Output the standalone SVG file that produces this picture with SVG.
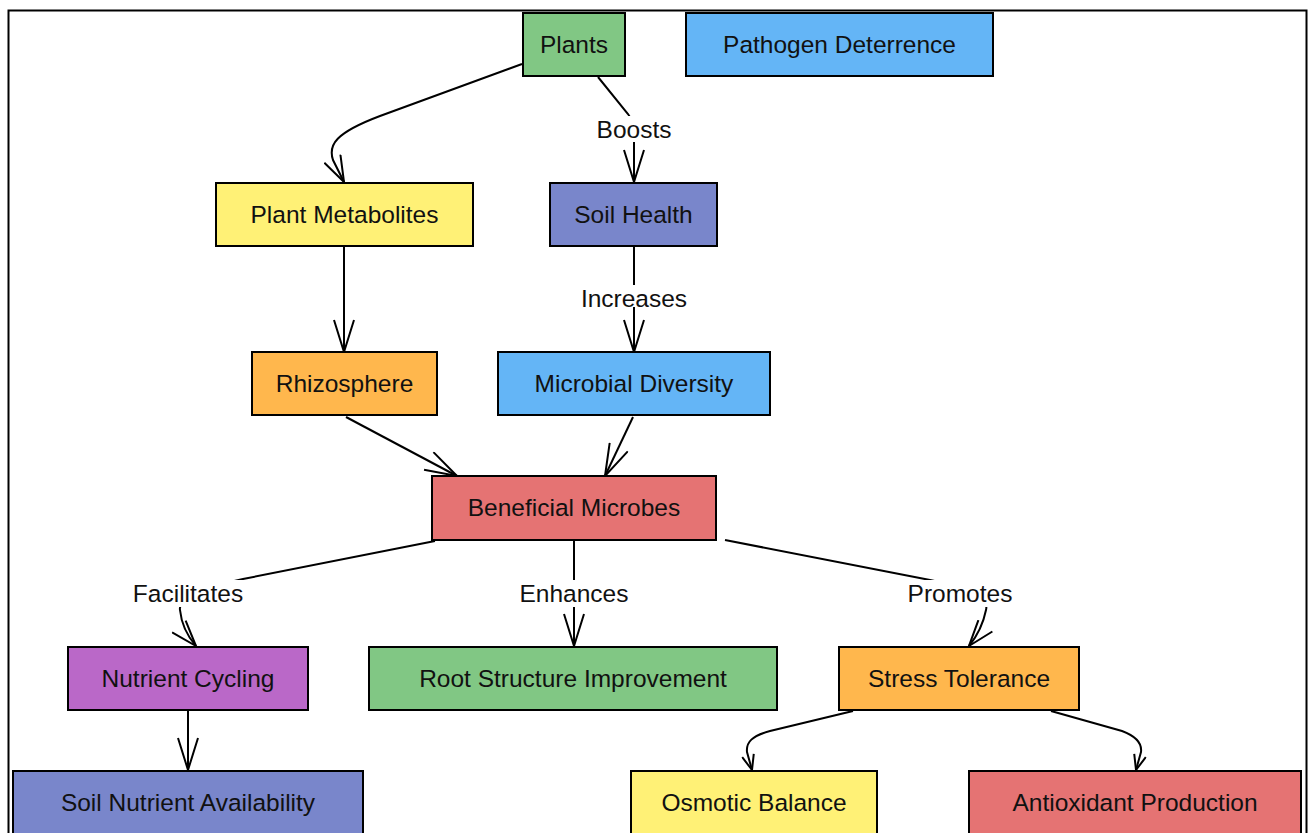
<svg xmlns="http://www.w3.org/2000/svg" width="1309" height="833" viewBox="0 0 1309 833">
<style>
.node rect{stroke:#000;stroke-width:2}
text{font-family:"Liberation Sans",Arial,sans-serif;font-size:24.5px;fill:#111;text-anchor:middle}
.edge{fill:none;stroke:#000;stroke-width:2;marker-end:url(#arr)}
.edge.mid{marker-end:url(#arrM)}
.edge.sm{marker-end:url(#arrS)}
.lblbg{fill:#fff;stroke:none}
</style>
<defs>
<marker id="arr" markerUnits="userSpaceOnUse" viewBox="0 0 34 22" markerWidth="34" markerHeight="22" refX="33" refY="11" orient="auto">
<path d="M1,1 L33,11 L1,21" fill="none" stroke="#000" stroke-width="2"/>
</marker>
<marker id="arrM" markerUnits="userSpaceOnUse" viewBox="0 0 28 20" markerWidth="28" markerHeight="20" refX="27" refY="10" orient="auto">
<path d="M1,1 L27,10 L1,19" fill="none" stroke="#000" stroke-width="2"/>
</marker>
<marker id="arrS" markerUnits="userSpaceOnUse" viewBox="0 0 17 14" markerWidth="17" markerHeight="14" refX="16" refY="7" orient="auto">
<path d="M1,1 L16,7 L1,13" fill="none" stroke="#000" stroke-width="2"/>
</marker>
</defs>
<rect width="1309" height="833" fill="#fff"/>
<rect x="8.5" y="10.5" width="1298" height="830" fill="none" stroke="#000" stroke-width="2"/>
<g id="connectors">
<path class="edge mid" d="M522,64 L380,116 C335,133 328,145 333,160 L344,182"/>
<path class="edge" d="M598,77 L628,114 Q634,122 634,132 L634,182"/>
<path class="edge" d="M344,247 L344,352"/>
<path class="edge" d="M634,247 L634,352"/>
<path class="edge" d="M346,417 L457,476"/>
<path class="edge" d="M633,417 L605,476"/>
<path class="edge mid" d="M435,541 L243,579 C200,588 178,598 180,610 Q182,630 196,646"/>
<path class="edge" d="M574,541 L574,646"/>
<path class="edge mid" d="M725,540 L930,580 C960,586 990,595 986,610 Q982,630 969,646"/>
<path class="edge" d="M188,711 L188,770"/>
<path class="edge sm" d="M853,711 L770,731 C752,736 746,742 747,752 L752,770"/>
<path class="edge sm" d="M1051,711 L1122,731 C1138,737 1142,744 1141,752 L1136,770"/>
<rect class="lblbg" x="596" y="116" width="76" height="26"/>
<text x="634" y="137.5">Boosts</text>
<rect class="lblbg" x="580" y="285" width="108" height="22"/>
<text x="634" y="306.5">Increases</text>
<rect class="lblbg" x="132" y="580" width="112" height="27"/>
<text x="188" y="601.5">Facilitates</text>
<rect class="lblbg" x="519" y="580" width="110" height="27"/>
<text x="574" y="601.5">Enhances</text>
<rect class="lblbg" x="906" y="580" width="108" height="27"/>
<text x="960" y="601.5">Promotes</text>
</g>
<g id="plants" class="node"><rect x="523" y="13" width="102" height="63" fill="#81c784"/><text x="574" y="53">Plants</text></g>
<g id="pathogen-deterrence" class="node"><rect x="686" y="13" width="307" height="63" fill="#64b5f6"/><text x="839.5" y="53">Pathogen Deterrence</text></g>
<g id="plant-metabolites" class="node"><rect x="216" y="183" width="257" height="63" fill="#fff176"/><text x="344.5" y="223">Plant Metabolites</text></g>
<g id="soil-health" class="node"><rect x="550" y="183" width="167" height="63" fill="#7986cb"/><text x="633.5" y="223">Soil Health</text></g>
<g id="rhizosphere" class="node"><rect x="252" y="352" width="185" height="63" fill="#ffb74d"/><text x="344.5" y="392">Rhizosphere</text></g>
<g id="microbial-diversity" class="node"><rect x="498" y="352" width="272" height="63" fill="#64b5f6"/><text x="634" y="392">Microbial Diversity</text></g>
<g id="beneficial-microbes" class="node"><rect x="432" y="476" width="284" height="64" fill="#e57373"/><text x="574" y="516">Beneficial Microbes</text></g>
<g id="nutrient-cycling" class="node"><rect x="68" y="647" width="240" height="63" fill="#ba68c8"/><text x="188" y="687">Nutrient Cycling</text></g>
<g id="root-structure-improvement" class="node"><rect x="369" y="647" width="408" height="63" fill="#81c784"/><text x="573" y="687">Root Structure Improvement</text></g>
<g id="stress-tolerance" class="node"><rect x="839" y="647" width="240" height="63" fill="#ffb74d"/><text x="959" y="687">Stress Tolerance</text></g>
<g id="soil-nutrient-availability" class="node"><rect x="13" y="771" width="350" height="70" fill="#7986cb"/><text x="188" y="811">Soil Nutrient Availability</text></g>
<g id="osmotic-balance" class="node"><rect x="631" y="771" width="246" height="70" fill="#fff176"/><text x="754" y="811">Osmotic Balance</text></g>
<g id="antioxidant-production" class="node"><rect x="969" y="771" width="332" height="70" fill="#e57373"/><text x="1135" y="811">Antioxidant Production</text></g>
</svg>
